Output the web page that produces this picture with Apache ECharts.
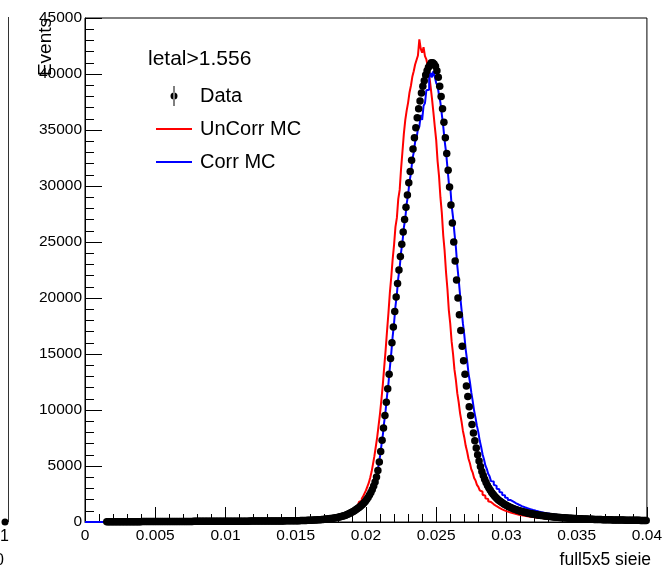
<!DOCTYPE html>
<html>
<head>
<meta charset="utf-8">
<script src="https://cdn.jsdelivr.net/npm/echarts@6/dist/echarts.min.js"></script>
<style>html,body{margin:0;padding:0;background:#fff;}#chart{width:665px;height:578px;}</style>
</head>
<body>
<div id="chart"></div>
<script>
// Histogram binning: 400 bins of width 0.0001 on [0, 0.04]
const binWidth = 0.0001;
const nBins = 400;
const xTickLabels = ['0','0.005','0.01','0.015','0.02','0.025','0.03','0.035','0.04'];
const yTickLabels = ['0','5000','10000','15000','20000','25000','30000','35000','40000','45000'];
const legendTitle = 'letal>1.556';
const seriesNames = ['Data', 'UnCorr MC', 'Corr MC'];

// Data (black points)
const dataValues = [
null,null,null,null,null,null,null,null,null,null,
null,null,null,null,null,18,19,20,20,21,
22,23,23,24,24,25,25,26,26,27,
28,29,29,30,30,31,31,32,32,33,
34,35,35,36,36,37,37,38,38,39,
40,41,41,42,42,43,43,44,44,45,
46,47,47,48,48,49,49,50,50,51,
52,53,53,54,54,55,55,56,56,57,
58,59,59,60,60,61,61,62,62,63,
64,65,65,66,66,67,67,68,68,69,
70,71,71,72,72,73,73,74,74,75,
75,76,76,77,77,78,78,79,79,80,
81,82,82,83,84,85,85,86,87,88,
89,90,91,92,93,94,95,96,97,98,
99,100,101,102,103,104,105,106,107,108,
110,115,120,125,130,135,140,145,150,155,
160,165,170,178,185,192,200,210,220,232,
245,258,272,288,305,322,340,360,382,405,
430,458,490,525,565,610,660,715,775,840,
910,985,1065,1150,1240,1340,1450,1570,1700,1840,
2000,2190,2400,2640,2910,3220,3580,4020,4600,5350,
6300,7300,8400,9500,10700,11900,13200,14600,16000,17400,
18800,20100,21300,22500,23700,24800,25900,27000,28100,29200,
30300,31300,32300,33300,34300,35200,36100,36900,37600,38300,
38900,39400,39900,40300,40600,40800,41000,41000,40900,40700,
40300,39700,38900,38000,36900,35700,34300,32900,31400,29900,
28300,26700,25000,23300,21600,20000,18500,17100,15700,14400,
13200,12150,11200,10300,9500,8700,7950,7250,6600,6000,
5450,4950,4520,4150,3820,3530,3270,3040,2830,2640,
2470,2320,2180,2060,1950,1850,1755,1670,1590,1515,
1445,1380,1320,1265,1212,1162,1115,1072,1030,990,
952,916,882,850,820,791,764,738,713,690,
668,647,627,608,590,572,555,539,524,509,
495,481,468,456,444,432,421,410,400,390,
380,371,362,353,345,337,329,321,314,307,
300,293,287,281,275,269,263,258,253,248,
243,238,234,230,226,222,218,214,210,206,
203,200,197,194,191,188,185,182,179,176,
174,172,170,168,166,164,162,160,158,156,
154,152,150,148,146,144,142,140,138,136
];

// UnCorr MC (red histogram)
const uncorrValues = [
0,0,0,0,0,0,0,0,0,0,
0,0,0,0,0,4,5,5,6,7,
8,9,8,10,10,9,11,12,11,12,
13,14,13,15,15,14,16,17,16,17,
18,19,18,20,21,20,22,23,22,23,
24,25,24,26,27,26,28,29,28,29,
30,31,30,32,33,32,34,35,34,35,
36,37,37,38,39,39,40,41,41,42,
43,44,44,45,46,46,47,48,48,49,
50,51,51,52,53,53,54,55,55,56,
57,58,57,59,60,60,61,62,62,63,
64,65,64,67,68,67,69,70,70,71,
72,73,72,75,76,75,77,78,78,79,
80,82,81,84,85,84,87,88,87,89,
90,92,91,94,95,94,97,98,97,99,
100,103,102,106,108,107,111,114,113,118,
120,123,127,126,131,135,134,140,144,147,
152,156,168,170,188,198,218,232,259,278,
312,338,381,418,473,527,603,676,774,866,
980,1105,1236,1405,1574,1785,1905,2085,2295,2560,
2820,3160,3490,3960,4480,5170,5880,6720,7580,8620,
9680,10930,12260,13850,15350,17050,18650,20450,21850,23450,
24750,26350,27150,28850,29650,31550,33100,34700,35900,36750,
37450,38350,38950,39750,40250,40850,41250,41650,43100,42250,
41900,42400,41600,41300,40700,39900,38900,37800,36600,35300,
34100,32200,30900,29000,27600,25600,24200,22300,20800,18900,
17700,16100,15000,13600,12700,11500,10700,9700,9000,8150,
7550,6800,6300,5650,5250,4700,4400,3930,3700,3320,
3140,2830,2700,2430,2340,2110,2050,1850,1790,1620,
1580,1430,1410,1270,1255,1140,1130,1025,1020,930,
925,845,845,770,770,705,705,645,650,595,
598,548,552,505,510,468,472,433,438,403,
408,375,380,349,354,326,331,304,310,285,
290,267,272,251,256,237,242,223,228,210,
215,198,203,188,193,178,183,168,174,160,
165,153,157,146,151,140,145,134,139,129,
133,126,130,122,127,119,124,116,121,113,
118,111,115,108,112,105,109,103,107,100,
104,98,102,95,99,93,97,91,95,89,
93,87,91,85,89,83,87,81,85,79
];

// Corr MC (blue histogram)
const corrValues = [
0,0,0,0,0,0,0,0,0,0,
0,0,0,0,0,17,19,21,19,22,
21,24,22,25,23,26,24,27,25,28,
27,30,28,31,29,32,30,33,31,34,
33,36,34,37,35,38,36,39,37,40,
39,42,40,43,41,44,42,45,43,46,
45,48,46,49,47,50,48,51,49,52,
51,54,52,55,53,56,54,57,55,58,
57,60,58,61,59,62,60,63,61,64,
63,66,64,67,65,68,66,69,67,70,
69,72,70,73,71,74,72,75,73,76,
74,77,75,78,76,79,77,80,78,81,
80,83,81,84,83,86,84,87,86,89,
88,91,90,93,92,95,94,97,96,99,
98,101,100,103,102,105,104,107,106,109,
108,112,116,120,124,128,132,137,141,145,
150,155,160,166,172,179,186,194,203,216,
230,242,255,268,283,298,316,334,353,373,
395,420,450,480,515,550,595,645,700,760,
820,885,960,1035,1115,1205,1300,1410,1525,1650,
1830,2070,2230,2500,2730,3080,3370,3880,4370,5080,
5870,6850,7760,8950,9960,11260,12350,13760,15050,16560,
17750,19260,20350,21780,22720,24090,25020,26310,27120,28420,
29220,30410,31120,32330,33000,33950,34250,35100,35300,36350,
35900,37150,37400,38550,38600,39650,40100,39700,40250,39750,
39200,38950,38100,37450,36400,35350,34050,33050,31650,30250,
29950,28250,27200,25800,24550,22900,21650,20250,19000,17750,
16700,15400,14450,13250,12500,11550,10800,9930,9300,8580,
8000,7250,6700,6050,5600,5050,4750,4300,4080,3650,
3620,3330,3230,2960,2920,2670,2640,2410,2390,2180,
2150,1970,1960,1790,1810,1640,1670,1510,1540,1390,
1420,1290,1320,1190,1230,1110,1150,1035,1070,970,
1000,900,935,845,880,790,825,740,775,705,
730,665,690,620,650,590,610,560,580,530,
545,500,515,480,490,450,470,430,440,405,
420,390,400,370,380,350,360,335,345,325,
330,310,320,300,308,292,300,284,292,276,
262,250,256,244,250,238,244,232,238,226,
232,220,226,214,220,208,214,203,209,198,
204,193,199,188,194,184,189,179,185,175
];

const FONT = "'Liberation Sans',Arial,Helvetica,sans-serif";

function histSteps(vals) {
  const pts = vals.map((v, i) => [+(i * binWidth).toFixed(5), v]);
  pts.push([+(nBins * binWidth).toFixed(5), vals[vals.length - 1]]);
  return pts;
}
function binPoints(vals) {
  const pts = [];
  vals.forEach((v, i) => { if (v !== null) pts.push([+((i + 0.5) * binWidth).toFixed(5), v]); });
  return pts;
}

const chart = echarts.init(document.getElementById('chart'), null, {renderer: 'canvas'});
const xMin = +xTickLabels[0], xMax = +xTickLabels[xTickLabels.length - 1];
const yMin = +yTickLabels[0], yMax = +yTickLabels[yTickLabels.length - 1];

const lineIcon = 'path://M0,9L36,9L36,11L0,11Z';

chart.setOption({
  animation: false,
  backgroundColor: '#fff',
  title: {
    text: legendTitle, left: 143, top: 44,
    textStyle: {fontSize: 21, fontWeight: 'normal', fontFamily: FONT, color: '#000'}
  },
  legend: {
    orient: 'vertical', left: 151, top: 80, itemWidth: 36, itemHeight: 20, itemGap: 11,
    selectedMode: false,
    textStyle: {fontSize: 20, fontFamily: FONT, color: '#000', lineHeight: 22, padding: [0, 0, 0, 3]},
    data: [
      {name: seriesNames[0], icon: 'path://M16.5,0L17.5,0L17.5,20L16.5,20Z M17,6.5A3.5,3.5,0,1,0,17,13.5A3.5,3.5,0,1,0,17,6.5Z'},
      {name: seriesNames[1], icon: lineIcon},
      {name: seriesNames[2], icon: lineIcon}
    ]
  },
  grid: {left: 85, right: 14, top: 18, bottom: 56, show: true, borderColor: '#000', borderWidth: 1, backgroundColor: 'transparent'},
  xAxis: {
    type: 'value', min: xMin, max: xMax, interval: 0.005,
    axisLine: {show: true, lineStyle: {color: '#000', width: 1}},
    axisTick: {show: true, inside: true, length: 15, lineStyle: {color: '#000'}},
    minorTick: {show: true, splitNumber: 5, length: 8, lineStyle: {color: '#000'}},
    splitLine: {show: false},
    axisLabel: {
      margin: 6, fontSize: 15.5, fontFamily: FONT, color: '#000', showMinLabel: true, showMaxLabel: true,
      formatter: function (v) { const i = Math.round(v / 0.005); return xTickLabels[i] !== undefined ? xTickLabels[i] : ''; }
    }
  },
  yAxis: {
    type: 'value', min: yMin, max: yMax, interval: 5000,
    axisLine: {show: true, lineStyle: {color: '#000', width: 1}},
    axisTick: {show: true, inside: true, length: 17, lineStyle: {color: '#000'}},
    minorTick: {show: true, splitNumber: 5, length: 9, lineStyle: {color: '#000'}},
    splitLine: {show: false},
    axisLabel: {
      margin: 3, fontSize: 15.5, fontFamily: FONT, color: '#000',
      formatter: function (v) { const i = Math.round(v / 5000); return yTickLabels[i] !== undefined ? yTickLabels[i] : ''; }
    }
  },
  graphic: [
    {type: 'text', x: 46, y: 18, rotation: Math.PI / 2,
      style: {text: 'Events', textAlign: 'right', textVerticalAlign: 'middle', fontSize: 19, fontFamily: FONT, fill: '#000'}},
    {type: 'text', x: 651, y: 551,
      style: {text: 'full5x5 sieie', textAlign: 'right', textVerticalAlign: 'top', fontSize: 17.5, fontFamily: FONT, fill: '#000'}},
    {type: 'line', shape: {x1: 8.5, y1: 17, x2: 8.5, y2: 522}, style: {stroke: '#333', lineWidth: 1}},
    {type: 'circle', shape: {cx: 5, cy: 522, r: 3.5}, style: {fill: '#000'}},
    {type: 'text', x: 9, y: 529, style: {text: '1', textAlign: 'right', textVerticalAlign: 'top', fontSize: 16, fontFamily: FONT, fill: '#000'}},
    {type: 'text', x: -5, y: 553, style: {text: '0', textAlign: 'left', textVerticalAlign: 'top', fontSize: 16, fontFamily: FONT, fill: '#000'}}
  ],
  series: [
    {
      name: seriesNames[1], type: 'line', step: 'end', data: histSteps(uncorrValues),
      symbol: 'none', showSymbol: false, z: 2,
      lineStyle: {color: '#ff0000', width: 2}, itemStyle: {color: '#ff0000'}
    },
    {
      name: seriesNames[2], type: 'line', step: 'end', data: histSteps(corrValues),
      symbol: 'none', showSymbol: false, z: 3,
      lineStyle: {color: '#0000ff', width: 2}, itemStyle: {color: '#0000ff'}
    },
    {
      name: seriesNames[0], type: 'scatter', data: binPoints(dataValues),
      symbol: 'circle', symbolSize: 7.5, z: 4,
      itemStyle: {color: '#000', opacity: 1}
    }
  ]
});
</script>
</body>
</html>
